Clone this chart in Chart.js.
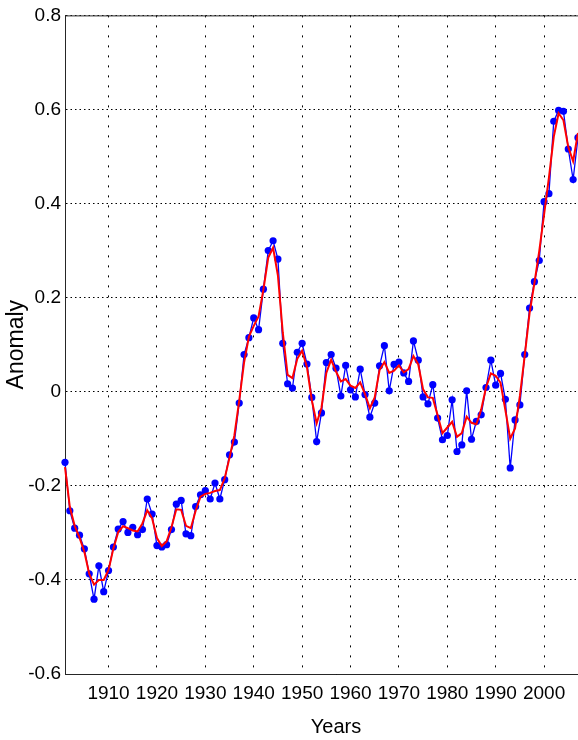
<!DOCTYPE html>
<html>
<head>
<meta charset="utf-8">
<script src="https://cdn.jsdelivr.net/npm/chart.js@4.4.1/dist/chart.umd.min.js"></script>
<style>
  html, body { margin: 0; padding: 0; background: #fff; overflow: hidden; }
  #wrap { width: 578px; height: 740px; overflow: hidden; }
</style>
</head>
<body>
<div id="wrap"><canvas id="anomalyChart" width="611" height="740"></canvas></div>
<script>
// years of the yearly series
var years = [
    1901, 1902, 1903, 1904, 1905, 1906, 1907, 1908, 1909, 1910,
    1911, 1912, 1913, 1914, 1915, 1916, 1917, 1918, 1919, 1920,
    1921, 1922, 1923, 1924, 1925, 1926, 1927, 1928, 1929, 1930,
    1931, 1932, 1933, 1934, 1935, 1936, 1937, 1938, 1939, 1940,
    1941, 1942, 1943, 1944, 1945, 1946, 1947, 1948, 1949, 1950,
    1951, 1952, 1953, 1954, 1955, 1956, 1957, 1958, 1959, 1960,
    1961, 1962, 1963, 1964, 1965, 1966, 1967, 1968, 1969, 1970,
    1971, 1972, 1973, 1974, 1975, 1976, 1977, 1978, 1979, 1980,
    1981, 1982, 1983, 1984, 1985, 1986, 1987, 1988, 1989, 1990,
    1991, 1992, 1993, 1994, 1995, 1996, 1997, 1998, 1999, 2000,
    2001, 2002, 2003, 2004, 2005, 2006, 2007
];

// yearly anomaly (blue dots)
var anomaly = [
    -0.150, -0.253, -0.290, -0.305, -0.334, -0.387, -0.441, -0.370, -0.425, -0.380,
    -0.330, -0.292, -0.276, -0.299, -0.288, -0.304, -0.293, -0.228, -0.260, -0.327,
    -0.330, -0.325, -0.293, -0.239, -0.231, -0.302, -0.306, -0.244, -0.219, -0.210,
    -0.228, -0.194, -0.228, -0.187, -0.134, -0.107, -0.024, 0.079, 0.115, 0.157,
    0.132, 0.218, 0.300, 0.321, 0.282, 0.103, 0.017, 0.008, 0.084, 0.103,
    0.059, -0.012, -0.106, -0.045, 0.062, 0.079, 0.050, -0.009, 0.056, 0.004,
    -0.011, 0.048, -0.006, -0.054, -0.024, 0.055, 0.098, 0.002, 0.058, 0.063,
    0.040, 0.022, 0.108, 0.067, -0.011, -0.026, 0.015, -0.056, -0.102, -0.093,
    -0.017, -0.127, -0.113, 0.002, -0.101, -0.063, -0.049, 0.009, 0.067, 0.014,
    0.039, -0.016, -0.162, -0.060, -0.028, 0.079, 0.178, 0.234, 0.279, 0.404,
    0.421, 0.575, 0.598, 0.596, 0.516, 0.451, 0.540
];

// smoothed curve (red line)
var smoothed = [
    -0.160, -0.245, -0.285, -0.310, -0.340, -0.387, -0.410, -0.400, -0.400, -0.379,
    -0.333, -0.298, -0.286, -0.290, -0.295, -0.297, -0.280, -0.252, -0.269, -0.311,
    -0.328, -0.318, -0.288, -0.250, -0.251, -0.285, -0.290, -0.253, -0.223, -0.217,
    -0.215, -0.211, -0.209, -0.184, -0.140, -0.093, -0.019, 0.062, 0.117, 0.140,
    0.160, 0.217, 0.285, 0.306, 0.247, 0.126, 0.036, 0.029, 0.070, 0.087,
    0.052, -0.018, -0.067, -0.034, 0.040, 0.068, 0.043, 0.022, 0.027, 0.013,
    0.008, 0.020, -0.005, -0.035, -0.012, 0.046, 0.063, 0.040, 0.045, 0.056,
    0.041, 0.048, 0.076, 0.058, 0.005, -0.012, -0.013, -0.050, -0.088, -0.076,
    -0.064, -0.096, -0.088, -0.053, -0.066, -0.069, -0.038, 0.009, 0.039, 0.034,
    0.019, -0.039, -0.100, -0.078, -0.009, 0.077, 0.167, 0.231, 0.299, 0.377,
    0.455, 0.542, 0.592, 0.577, 0.520, 0.490, 0.550
];

var xTicks = [1910, 1920, 1930, 1940, 1950, 1960, 1970, 1980, 1990, 2000];
var yTicks = [-0.6, -0.4, -0.2, 0, 0.2, 0.4, 0.6, 0.8];

var fontFamily = "'Liberation Sans', Arial, sans-serif";

var bluePoints = [];
var redPoints = [];
for (var i = 0; i < years.length; i++) {
    bluePoints.push({ x: years[i], y: anomaly[i] });
    redPoints.push({ x: years[i], y: smoothed[i] });
}

// solid box line along the top of the plot area
var frameLine = {
    id: "frameLine",
    afterDraw: function (chart) {
        var a = chart.chartArea;
        var ctx = chart.ctx;
        ctx.save();
        ctx.strokeStyle = "#262626";
        ctx.lineWidth = 1;
        ctx.beginPath();
        ctx.moveTo(a.left, a.top + 0.5);
        ctx.lineTo(a.right, a.top + 0.5);
        ctx.stroke();
        ctx.restore();
    }
};

var canvas = document.getElementById("anomalyChart");

var chart = new Chart(canvas, {
    type: "line",
    data: {
        datasets: [{
            label: "Smoothed",
            data: redPoints,
            borderColor: "#ff0000",
            borderWidth: 2,
            pointRadius: 0,
            fill: false,
            tension: 0,
            clip: false
        }, {
            label: "Anomaly",
            data: bluePoints,
            borderColor: "#0000ff",
            borderWidth: 1.3,
            backgroundColor: "#0000ff",
            pointBackgroundColor: "#0000ff",
            pointBorderColor: "#0000ff",
            pointRadius: 3.6,
            pointBorderWidth: 0,
            fill: false,
            tension: 0,
            clip: false
        }]
    },
    options: {
        responsive: false,
        animation: false,
        layout: {
            padding: { left: 0, top: 15, right: 0, bottom: 0 }
        },
        plugins: {
            legend: { display: false },
            tooltip: { enabled: false }
        },
        scales: {
            x: {
                type: "linear",
                min: 1901,
                max: 2013,
                afterBuildTicks: function (scale) {
                    scale.ticks = xTicks.map(function (v) { return { value: v }; });
                },
                afterFit: function (scale) {
                    scale.height = 66;
                },
                grid: {
                    color: "#000000",
                    lineWidth: 1,
                    drawTicks: false
                },
                border: {
                    display: true,
                    color: "#262626",
                    width: 1,
                    dash: [2, 8]
                },
                ticks: {
                    color: "#000000",
                    padding: 8,
                    maxRotation: 0,
                    autoSkip: false,
                    font: { family: fontFamily, size: 19 },
                    callback: function (v) { return String(v); }
                },
                title: {
                    display: true,
                    text: "Years",
                    color: "#000000",
                    padding: { top: 0, bottom: 1 },
                    font: { family: fontFamily, size: 20 }
                }
            },
            y: {
                type: "linear",
                min: -0.6,
                max: 0.8,
                afterBuildTicks: function (scale) {
                    scale.ticks = yTicks.map(function (v) { return { value: v }; });
                },
                afterFit: function (scale) {
                    scale.width = 65;
                },
                grid: {
                    color: "#000000",
                    lineWidth: 1,
                    drawTicks: false
                },
                border: {
                    display: true,
                    color: "#262626",
                    width: 1,
                    dash: [1.5, 3]
                },
                ticks: {
                    color: "#000000",
                    padding: 4,
                    autoSkip: false,
                    font: { family: fontFamily, size: 19 },
                    callback: function (v) { return v === 0 ? "0" : v.toFixed(1); }
                },
                title: {
                    display: true,
                    text: "Anomaly",
                    color: "#000000",
                    padding: { top: 3, bottom: 0 },
                    font: { family: fontFamily, size: 23 }
                }
            }
        }
    },
    plugins: [frameLine]
});
</script>
</body>
</html>
